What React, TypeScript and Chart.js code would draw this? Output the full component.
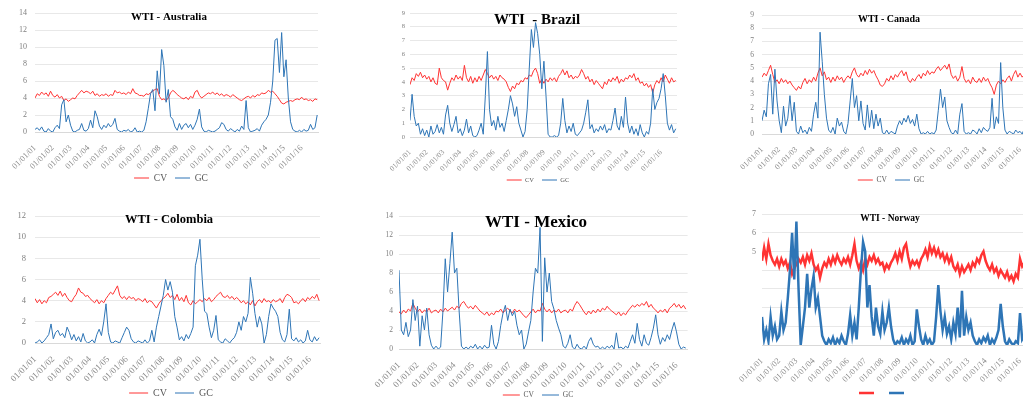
import React, { useEffect, useRef } from "react";
import { Chart, registerables } from "chart.js";

Chart.register(...registerables);

const FONT = "'Liberation Serif', 'Times New Roman', serif";
const RED = "#ff3333";
const BLUE = "#2e75b6";
const START_YEAR = 2001;
const SAMPLES_PER_YEAR = 8;
const YEAR_TICKS = [2001, 2002, 2003, 2004, 2005, 2006, 2007, 2008, 2009, 2010, 2011, 2012, 2013, 2014, 2015, 2016];
const SERIES_NAMES = ["CV", "GC"];

// ---- Australia ----
const AUS_CV = [
  4.0, 4.5, 4.3, 4.7, 4.4, 4.6, 4.2, 4.8,
  4.3, 4.1, 4.4, 4.0, 4.2, 3.7, 3.9, 3.6,
  3.8, 4.0, 3.9, 4.3, 4.6, 4.9, 4.6, 4.8,
  4.7, 4.5, 4.8, 4.3, 4.5, 4.2, 4.4, 4.3,
  4.5, 4.2, 4.4, 4.3, 4.9, 4.6, 4.7, 4.5,
  4.6, 4.4, 4.7, 4.5, 5.1, 4.6, 4.5, 4.3,
  4.3, 4.2, 4.5, 4.4, 4.6, 4.8, 5.0, 5.1,
  4.2, 3.8, 3.9, 3.7, 4.0, 4.6, 4.9, 4.7,
  4.4, 4.2, 4.0, 3.9, 4.1, 3.8, 4.2, 4.0,
  4.7, 4.9, 4.3, 4.0, 4.2, 4.4, 4.6, 4.5,
  4.7, 4.4, 4.6, 4.3, 4.5, 4.2, 4.4, 4.3,
  4.1, 4.4, 4.2, 4.0, 3.8, 3.7, 3.9, 4.1,
  4.2, 4.0, 4.3, 4.1, 4.4, 4.3, 4.6, 4.5,
  4.6, 4.9, 4.7, 4.8, 4.5, 4.2, 3.8, 3.4,
  3.3, 3.5, 3.6, 3.7, 3.6, 3.8, 3.9, 3.8,
  4.1, 3.8, 3.9, 3.7, 3.8, 3.6, 3.9, 3.8,
];
const AUS_GC = [
  0.3, 0.5, 0.2, 0.6, 0.1, 0.0, 0.4, 0.1,
  0.0, 0.5, 0.8, 0.4, 3.2, 3.8, 1.2, 2.0,
  0.8, 0.1, 0.0, 0.2, 0.3, 1.0, 0.2, 0.1,
  0.4, 1.4, 0.5, 2.5, 1.8, 0.7, 0.3, 0.8,
  0.5, 1.0, 0.6, 0.9, 1.6, 0.3, 0.1, 0.0,
  0.2, 0.1, 0.3, 0.0, 0.1, 0.5, 0.0, 0.1,
  0.0, 0.2, 1.2, 2.8, 4.5, 5.0, 2.5, 7.2,
  4.5, 9.7, 7.8, 3.5, 5.0, 1.8, 1.5, 0.6,
  0.2, 1.0, 0.3, 0.8, 1.0, 0.5, 0.9, 0.3,
  0.8, 1.5, 2.7, 0.6, 0.1, 0.0, 0.2, 0.1,
  0.0, 0.1, 0.3, 0.5, 1.1, 0.9, 0.3, 0.1,
  0.4, 0.2, 0.0, 0.3, 0.1, 0.7, 0.3, 3.7,
  0.5, 0.0, 0.1, 0.2, 0.4, 0.1, 0.8, 1.2,
  1.5, 2.0, 3.5, 6.0, 10.8, 11.0, 7.0, 11.7,
  6.5, 8.5, 4.0, 1.2, 0.3, 0.1, 0.0, 0.2,
  0.0, 0.3, 0.1, 0.2, 0.9, 0.3, 0.5, 2.0,
];

// ---- Brazil ----
const BRA_CV = [
  3.8, 4.3, 4.1, 4.6, 4.4, 4.7, 4.3, 4.5,
  4.2, 4.4, 4.0, 4.3, 3.9, 3.8, 5.0, 4.3,
  4.1, 4.0, 3.4, 3.9, 4.3, 4.1, 4.5, 4.2,
  4.4, 4.1, 5.2, 4.3, 4.0, 4.4, 3.9, 4.3,
  4.0, 4.4, 4.1, 4.5, 4.9, 4.6, 4.3, 4.5,
  4.2, 4.4, 4.1, 4.5, 4.3, 4.2, 4.0, 3.6,
  3.3, 3.7, 3.5, 3.9, 3.8, 4.1, 4.0, 4.3,
  4.2, 4.5, 4.4, 4.8, 5.0, 4.6, 3.9, 4.2,
  3.9, 4.2, 4.0, 4.3, 4.1, 4.3, 4.0, 4.4,
  4.6, 4.9, 4.5, 4.8, 4.3, 4.5, 4.2, 4.4,
  4.3, 4.5, 4.9, 4.6, 4.2, 4.4, 4.0, 4.2,
  3.8, 4.1, 3.9, 3.7, 3.5, 4.0, 3.8, 4.2,
  4.0, 4.3, 4.1, 4.4, 3.9, 4.2, 4.0, 4.3,
  4.2, 4.5, 4.3, 4.6, 4.1, 4.3, 3.9, 4.0,
  3.7, 3.9, 3.6, 3.8, 3.2, 3.8, 4.1, 3.9,
  4.3, 4.0, 4.5, 4.2, 3.9, 4.3, 4.0, 4.1,
];
const BRA_GC = [
  1.2, 3.1, 1.5, 0.8, 1.0, 0.2, 0.6, 0.1,
  0.5, 0.0, 0.8, 0.2, 0.4, 0.9, 0.3, 0.7,
  0.2, 1.6, 2.3, 1.0, 0.4, 0.9, 1.5, 0.3,
  0.6, 0.1, 0.5, 1.3, 0.3, 0.8, 0.1, 0.0,
  0.1, 0.5, 1.0, 0.2, 3.0, 6.2, 2.0, 0.8,
  1.2, 0.5, 1.5, 0.7, 1.0, 0.4, 1.2, 2.0,
  3.0, 2.4, 1.5, 2.2, 1.0, 0.5, 0.0, 0.4,
  2.0, 5.0, 7.8, 6.5, 8.3, 7.5, 6.0, 3.5,
  5.5, 3.0, 0.2, 0.0, 0.0, 0.1, 0.0, 0.1,
  1.0, 2.8, 1.2, 0.3, 0.8, 0.4, 1.0, 0.2,
  0.1, 0.3, 0.5, 1.0, 1.8, 2.7, 0.6, 0.9,
  0.3, 0.6, 0.4, 0.8, 0.5, 0.9, 0.3, 0.6,
  0.5, 1.2, 2.1, 0.8, 0.5, 1.5, 0.7, 2.9,
  1.0, 0.3, 0.8, 0.2, 0.6, 0.1, 0.9, 0.3,
  0.0, 0.4, 0.2, 1.0, 3.5, 2.0, 2.5, 2.8,
  3.5, 4.6, 3.0, 1.0, 0.5, 0.9, 0.3, 0.6,
];

// ---- Canada ----
const CAN_CV = [
  4.3, 4.6, 4.4, 4.8, 5.2, 4.5, 3.9, 4.1,
  3.8, 4.2, 3.9, 4.1, 3.8, 4.0, 3.7, 3.5,
  3.3, 3.6, 3.4, 3.9, 4.2, 3.8, 4.1, 3.9,
  4.3, 4.0, 4.6, 5.0, 4.4, 4.7, 4.1, 4.3,
  3.9, 4.3, 4.0, 4.4, 4.1, 4.3, 3.9, 4.2,
  4.4, 4.2, 4.7, 5.0, 4.5, 4.3, 4.6, 4.4,
  4.8, 4.5, 4.9, 4.6, 4.8, 4.4, 4.1, 3.7,
  3.6, 3.8, 4.2, 4.0, 4.4, 4.1, 4.5, 4.3,
  4.6, 4.8, 4.4, 4.7, 4.1, 3.9, 4.2, 4.0,
  4.3, 4.5, 4.2, 4.6, 4.4, 4.8, 4.5, 4.7,
  4.6, 4.9, 5.1, 4.8, 5.0, 5.2, 4.9, 5.3,
  4.5, 4.2, 4.4, 4.0, 4.3, 5.1, 4.2, 3.9,
  4.1, 3.8, 4.3, 4.0, 3.9, 4.2, 3.9, 4.3,
  4.0, 4.2, 3.8, 3.5, 3.0, 3.7, 4.0, 3.8,
  4.1, 3.9, 4.2, 4.4, 4.0, 4.5, 4.8, 4.3,
  4.6, 4.3, 4.5, 4.2, 4.4, 4.1, 4.3, 4.2,
];
const CAN_GC = [
  1.0, 1.8, 1.3, 3.8, 4.5, 1.5, 4.9, 2.5,
  1.0, 0.1, 2.1, 0.6, 1.2, 2.9, 1.0, 2.4,
  0.2, 0.0, 0.6, 0.1, 0.3, 0.0, 0.5, 0.2,
  1.5, 2.4, 1.2, 7.7, 5.5, 3.0, 1.2, 0.3,
  0.1, 0.5, 0.0, 1.2, 0.6, 0.9, 0.2, 0.0,
  0.8, 2.5, 4.2, 2.0, 2.9, 1.0, 2.5, 0.8,
  0.3, 2.2, 0.5, 1.8, 0.4, 1.5, 0.6, 1.2,
  0.1, 0.0, 0.3, 0.0, 0.2, 0.1, 0.0, 0.6,
  1.0, 0.7, 1.2, 0.9, 1.4, 0.8, 1.1, 0.6,
  1.5, 0.4, 0.0, 0.1, 0.0, 0.2, 0.0, 0.1,
  0.0, 0.3, 1.8, 3.4, 2.0, 2.8, 1.0, 0.5,
  0.1, 0.0, 0.3, 0.0, 1.5, 2.3, 0.2, 0.0,
  0.1, 0.0, 0.3, 0.2, 0.0, 0.4, 0.1, 0.5,
  0.3, 0.2, 0.5, 2.7, 0.4, 1.3, 0.8, 5.4,
  2.0, 0.3, 0.0, 0.2, 0.1, 0.0, 0.3, 0.1,
  0.2, 0.0, 0.4, 0.1, 0.3, 0.0, 0.2, 0.1,
];

// ---- Colombia ----
const COL_CV = [
  4.2, 3.8, 4.1, 3.7, 4.0, 3.8, 4.3, 4.4,
  4.6, 4.8, 4.5, 4.9, 4.4, 4.7, 4.3, 4.0,
  3.9, 4.3, 4.6, 5.2, 4.8, 4.7, 4.4, 4.5,
  4.2, 4.0, 3.8, 4.1, 3.7, 4.0, 3.8, 4.2,
  4.5, 4.8, 4.6, 5.0, 5.4, 4.5, 4.2, 4.4,
  4.1, 4.4, 4.2, 4.3, 4.0, 4.2, 4.1, 3.9,
  4.2, 3.8, 4.0, 3.9, 3.6, 3.3, 3.7, 4.0,
  4.2, 4.4, 4.7, 4.3, 4.5, 4.1, 4.6, 4.0,
  4.3, 3.9, 4.5, 3.8, 3.6, 4.0, 3.7, 3.9,
  4.1, 3.9, 4.2, 4.0, 4.3, 3.9, 4.1, 4.4,
  4.6, 4.8, 4.4, 4.3, 4.5, 4.2, 4.4, 4.1,
  4.3, 4.1, 3.8, 4.0, 3.7, 3.9, 3.6, 4.0,
  3.5, 3.9, 4.1, 3.8, 4.2, 3.9, 4.0, 3.8,
  4.1, 3.9, 4.0, 4.2, 3.8, 4.3, 4.6, 4.5,
  4.3, 3.8, 3.9, 3.7, 4.0, 4.2, 3.9, 4.3,
  4.1, 4.4, 4.2, 4.6, 4.0,
];
const COL_GC = [
  0.0, 0.1, 0.3, 0.0, 0.2, 0.5, 0.8, 1.8,
  0.4, 1.0, 1.2, 0.7, 0.9, 0.5, 1.5, 1.0,
  0.3, 0.8, 0.2, 0.6, 0.1, 0.9, 0.2, 0.0,
  0.1, 0.3, 0.0, 0.8, 1.3, 0.7, 2.0, 3.7,
  1.0, 0.1, 0.0, 0.2, 0.1, 0.0, 0.5, 1.0,
  1.5, 1.2, 0.4, 0.1, 0.0, 0.2, 0.1, 0.0,
  0.3, 0.0, 0.2, 1.2, 0.1, 1.5, 2.5, 3.5,
  4.5, 6.0, 5.0, 5.8, 4.8, 2.5, 1.5, 0.3,
  0.6, 0.2, 0.8, 0.4, 0.9, 1.5, 7.3, 8.3,
  9.8, 6.0, 3.0, 2.8, 1.5, 0.5, 1.2, 2.6,
  0.3, 0.1, 0.0, 0.4, 0.2, 0.0, 0.3, 0.5,
  1.0, 2.0, 1.2, 2.5, 2.0, 2.8, 6.2, 4.7,
  2.8, 1.5, 2.5, 1.8, 0.0, 0.8, 2.5, 3.7,
  3.3, 3.0, 2.5, 1.0, 0.3, 0.1, 0.8, 3.2,
  0.4, 0.2, 0.5, 0.1, 0.3, 0.0, 0.2, 1.2,
  0.3, 0.1, 0.6, 0.2, 0.5,
];

// ---- Mexico ----
const MEX_CV = [
  3.9, 3.7, 4.1, 3.8, 4.2, 4.0, 4.8, 4.3,
  3.9, 4.2, 3.8, 4.1, 3.9, 4.3, 3.8, 4.0,
  4.1, 3.8, 4.2, 3.9, 4.3, 4.0, 4.2, 4.4,
  4.1, 4.5, 4.3, 4.8, 5.0, 4.6, 4.3, 4.5,
  4.2, 4.6, 4.3, 4.0, 3.8, 3.6, 3.9, 3.5,
  3.8, 3.6, 4.0, 3.9, 4.2, 3.8, 4.1, 4.3,
  4.0, 3.8, 4.2, 3.9, 4.1, 3.8, 3.5, 3.3,
  3.6, 3.9, 4.2, 3.8, 4.1, 4.0, 4.8, 4.2,
  3.9, 4.2, 3.8, 4.1, 3.9, 4.2, 3.8, 4.0,
  4.1, 3.8, 4.2, 4.0, 4.6, 5.0, 4.7, 4.3,
  3.9, 3.6, 4.0, 3.7, 4.1, 3.8, 4.2, 3.9,
  4.3, 4.1, 4.5, 4.2, 4.0, 3.8, 3.6, 3.9,
  3.5, 3.8, 3.6, 4.0, 4.3, 4.6, 4.4, 4.7,
  4.5, 4.8, 4.6, 5.0, 4.4, 4.7, 4.3, 4.1,
  3.8, 4.1, 3.9, 4.2, 3.8, 4.3, 4.5, 4.8,
  4.4, 4.7, 4.3, 4.6, 4.2,
];
const MEX_GC = [
  8.3, 2.0, 1.5, 2.8, 1.3, 2.0, 5.2, 3.0,
  4.5, 0.3, 3.5, 2.0, 4.3, 1.5, 0.4, 0.0,
  0.3, 0.0, 0.2, 4.0, 9.5, 6.0, 9.0, 12.3,
  8.0, 8.5, 4.0, 0.3, 0.0, 0.2, 0.0, 0.3,
  0.1, 0.5, 0.0, 0.3, 0.0, 0.4, 0.1, 0.2,
  2.5, 0.5, 0.0, 0.8, 2.5, 3.8, 4.6, 3.0,
  4.2, 3.5, 4.0, 2.5, 1.5, 2.0, 0.0, 0.5,
  1.8, 3.0, 6.0, 8.5, 8.0, 12.8, 0.8, 9.6,
  6.0, 8.0, 5.0, 4.2, 3.0, 2.2, 1.5, 0.3,
  0.1, 0.6, 1.5, 0.2, 0.0, 0.5, 0.1, 0.0,
  0.3, 0.0, 0.8, 1.2, 0.5, 0.2, 0.3, 0.0,
  0.2, 0.0, 0.3, 0.1, 0.4, 0.0, 1.7, 0.1,
  0.2, 0.0, 0.3, 0.1, 0.8, 1.5, 0.6, 2.7,
  1.0, 0.3, 1.5, 0.6, 0.4, 1.2, 2.2, 3.6,
  1.5, 0.5, 1.2, 0.8, 1.5, 1.0, 2.0, 2.8,
  1.8, 0.5, 0.0, 0.2, 0.1,
];

// ---- Norway ----
const NOR_CV = [
  4.5, 5.2, 4.6, 5.4, 4.8, 4.5, 4.3, 4.6,
  4.2, 4.6, 4.3, 4.5, 4.1, 4.4, 3.8, 4.1,
  4.3, 4.6, 4.4, 4.7, 4.3, 4.8, 4.5, 4.9,
  4.3, 4.0, 4.2, 3.6, 4.1, 4.4, 4.2, 4.6,
  4.3, 4.7, 4.4, 4.8, 4.5, 4.3, 4.6, 4.4,
  4.7, 4.3, 4.8, 5.4, 4.5, 4.1, 4.4, 4.0,
  4.6, 4.3, 4.7, 4.5, 4.8, 4.4, 4.6, 4.3,
  4.4, 4.0, 4.3, 4.1, 4.4, 4.6, 4.9, 4.5,
  5.0, 4.6, 5.2, 5.4, 4.7, 4.2, 4.5, 4.3,
  4.5, 4.2, 4.6, 4.8, 5.1, 4.7, 5.3, 4.9,
  5.2, 4.8, 5.1, 4.7, 4.9, 4.5, 4.8, 4.4,
  4.7, 4.2, 4.0, 4.3, 3.8, 4.2, 3.9, 4.1,
  4.3, 4.0, 4.4, 4.2, 4.6, 4.4, 4.8, 5.0,
  4.5, 4.2, 4.0, 4.3, 3.9, 4.1, 3.7, 4.0,
  3.8, 3.6, 3.9, 3.5, 3.7, 3.4, 3.8, 3.6,
  4.6, 4.2, 4.4, 4.1, 4.3, 4.0, 4.2, 4.4,
];
const NOR_GC = [
  1.5, 0.3, 0.8, 0.2, 1.5, 0.5, 1.0, 0.3,
  0.5, 1.8, 0.8, 1.2, 2.5, 4.0, 6.0, 3.5,
  6.6, 3.0, 0.0, 1.0, 2.0, 3.8, 2.0, 3.0,
  3.7, 2.0, 2.5, 1.5, 0.5, 0.2, 0.0, 0.3,
  0.1, 0.4, 0.0, 0.3, 0.1, 0.5, 0.2, 0.0,
  0.6, 1.6, 0.5, 1.2, 0.3, 2.0, 4.0, 5.5,
  5.0, 2.0, 3.2, 1.5, 0.5, 2.0, 1.0, 0.6,
  1.8, 0.8, 1.2, 2.0, 1.0, 0.3, 0.0, 0.2,
  0.1, 0.4, 0.0, 0.3, 0.1, 0.5, 0.0, 0.2,
  1.9, 1.0, 0.3, 0.0, 0.5, 0.1, 0.3, 0.0,
  0.2, 1.5, 3.2, 1.8, 0.8, 1.5, 0.6, 1.0,
  0.3, 1.2, 0.6, 2.0, 0.4, 2.9, 0.5, 1.5,
  0.8, 1.2, 0.5, 0.2, 0.0, 0.3, 0.1, 0.4,
  0.2, 0.5, 0.0, 0.3, 0.1, 0.4, 0.8, 2.2,
  1.0, 0.2, 0.0, 0.3, 0.1, 0.0, 0.2, 0.1,
  1.7, 0.3, 0.5, 0.1, 0.2, 0.0, 0.3, 0.1,
];

type Box = { x: number; y: number; w: number; h: number };
type Panel = {
  key: string;
  title: string;
  titleAt: { x: number; y: number; size: number };
  clip: Box;
  canvas: Box;
  area: { left: number; top: number; right: number; bottom: number };
  xMax: number;
  yMax: number;
  yStep: number;
  yLabelMin: number;
  cv: number[];
  gc: number[];
  lw: number;
  yFont: number;
  yPad: number;
  xFont: number;
  legendFont: number;
  legendPad: number;
  legendLine: number;
  legendText: boolean;
  legendAt: { x: number; y: number };
};

const PANELS: Panel[] = [
  {
    key: "aus", title: "WTI - Australia", titleAt: { x: 169, y: 17, size: 11 },
    clip: { x: 0, y: 0, w: 340, h: 200 }, canvas: { x: 0, y: 0, w: 330, h: 200 },
    area: { left: 35, top: 13, right: 318, bottom: 132 },
    xMax: 2016.92, yMax: 14, yStep: 2, yLabelMin: 0, cv: AUS_CV, gc: AUS_GC, lw: 1,
    yFont: 8, yPad: 8, xFont: 8.5, legendFont: 9.5, legendPad: 8, legendLine: 15,
    legendText: true, legendAt: { x: 171, y: 178 },
  },
  {
    key: "bra", title: "WTI  - Brazil", titleAt: { x: 537, y: 20, size: 15 },
    clip: { x: 340, y: 0, w: 340, h: 200 }, canvas: { x: 340, y: 0, w: 345, h: 200 },
    area: { left: 70, top: 13, right: 337, bottom: 137 },
    xMax: 2016.95, yMax: 9, yStep: 1, yLabelMin: 0, cv: BRA_CV, gc: BRA_GC, lw: 1,
    yFont: 6.5, yPad: 5, xFont: 7.5, legendFont: 6.5, legendPad: 8, legendLine: 15,
    legendText: true, legendAt: { x: 538, y: 180 },
  },
  {
    key: "can", title: "WTI - Canada", titleAt: { x: 889, y: 19, size: 10 },
    clip: { x: 680, y: 0, w: 343, h: 200 }, canvas: { x: 680, y: 0, w: 370, h: 200 },
    area: { left: 82, top: 15, right: 355.5, bottom: 134 },
    xMax: 2016.9, yMax: 9, yStep: 1, yLabelMin: 0, cv: CAN_CV, gc: CAN_GC, lw: 1,
    yFont: 7.5, yPad: 8, xFont: 8, legendFont: 7.5, legendPad: 8, legendLine: 15,
    legendText: true, legendAt: { x: 891, y: 180 },
  },
  {
    key: "col", title: "WTI - Colombia", titleAt: { x: 169, y: 220, size: 12.5 },
    clip: { x: 0, y: 200, w: 340, h: 200 }, canvas: { x: 0, y: 200, w: 335, h: 200 },
    area: { left: 35, top: 16, right: 320, bottom: 143 },
    xMax: 2016.55, yMax: 12, yStep: 2, yLabelMin: 0, cv: COL_CV, gc: COL_GC, lw: 1,
    yFont: 8.5, yPad: 9, xFont: 9, legendFont: 10, legendPad: 8, legendLine: 19,
    legendText: true, legendAt: { x: 171, y: 393 },
  },
  {
    key: "mex", title: "WTI - Mexico", titleAt: { x: 536, y: 223, size: 17 },
    clip: { x: 340, y: 200, w: 349, h: 200 }, canvas: { x: 340, y: 200, w: 360, h: 200 },
    area: { left: 59, top: 16, right: 347.6, bottom: 149 },
    xMax: 2016.6, yMax: 14, yStep: 2, yLabelMin: 0, cv: MEX_CV, gc: MEX_GC, lw: 1,
    yFont: 7.5, yPad: 6, xFont: 9, legendFont: 7.5, legendPad: 8, legendLine: 17,
    legendText: true, legendAt: { x: 538, y: 395 },
  },
  {
    key: "nor", title: "WTI - Norway", titleAt: { x: 890, y: 219, size: 9.5 },
    clip: { x: 689, y: 200, w: 334, h: 200 }, canvas: { x: 689, y: 200, w: 360, h: 200 },
    area: { left: 73, top: 14, right: 346.5, bottom: 145 },
    xMax: 2016.9, yMax: 7, yStep: 1, yLabelMin: 5, cv: NOR_CV, gc: NOR_GC, lw: 2.5,
    yFont: 8, yPad: 6, xFont: 8.5, legendFont: 10, legendPad: 10, legendLine: 15,
    legendText: false, legendAt: { x: 884, y: 393 },
  },
];

const LEGEND_LAYOUT_H = 2;

const fmtYear = (v: number) => "01/01/" + String(Math.round(v) % 100).padStart(2, "0");
const toPoints = (vals: number[]) =>
  vals.map((y, i) => ({ x: START_YEAR + i / SAMPLES_PER_YEAR, y }));

const decorPlugin = {
  id: "decor",
  afterLayout(chart: any, _args: any, o: any) {
    const l = chart.legend;
    if (!l || !o || !o.legendAt) return;
    const h = o.legendFont + o.legendPad + 10;
    const cx = (l.left + l.right) / 2;
    const dx = o.legendAt.x - cx;
    l.left += dx;
    l.right += dx;
    l.top = o.legendAt.y - o.legendPad - o.legendFont / 2;
    l.bottom = l.top + h;
    l.height = h;
  },
  afterDraw(chart: any, _args: any, o: any) {
    if (!o || !o.title) return;
    const ctx = chart.ctx;
    ctx.save();
    ctx.font = `bold ${o.titleSize}px ${FONT}`;
    ctx.fillStyle = "#000000";
    ctx.textAlign = "center";
    ctx.textBaseline = "middle";
    ctx.fillText(o.title, o.titleX, o.titleY);
    ctx.restore();
  },
};

function PanelChart({ p }: { p: Panel }) {
  const ref = useRef<HTMLCanvasElement | null>(null);
  useEffect(() => {
    if (!ref.current) return;
    const a = p.area;
    const xH = p.canvas.h - a.bottom - LEGEND_LAYOUT_H;
    const chart = new Chart(ref.current, {
      type: "line",
      data: {
        datasets: [
          {
            label: p.legendText ? SERIES_NAMES[0] : "",
            data: toPoints(p.cv),
            borderColor: RED,
            backgroundColor: RED,
            borderWidth: p.lw,
            pointRadius: 0,
            pointHoverRadius: 0,
            tension: 0,
            order: 2,
          },
          {
            label: p.legendText ? SERIES_NAMES[1] : "",
            data: toPoints(p.gc),
            borderColor: BLUE,
            backgroundColor: BLUE,
            borderWidth: p.lw,
            pointRadius: 0,
            pointHoverRadius: 0,
            tension: 0,
            order: 1,
          },
        ],
      },
      options: {
        responsive: false,
        animation: false,
        events: [],
        layout: {
          padding: { left: 0, top: a.top, right: p.canvas.w - a.right, bottom: 0 },
        },
        scales: {
          x: {
            type: "linear",
            min: START_YEAR,
            max: p.xMax,
            afterBuildTicks: (s: any) => {
              s.ticks = YEAR_TICKS.map((v) => ({ value: v }));
            },
            afterFit: (s: any) => {
              s.height = xH;
            },
            grid: { display: false },
            border: { display: true, color: "#d9d9d9" },
            ticks: {
              autoSkip: false,
              minRotation: 45,
              maxRotation: 45,
              padding: 3,
              color: "#8a8a8a",
              font: { family: FONT, size: p.xFont },
              callback: (v: any) => fmtYear(Number(v)),
            },
          },
          y: {
            min: 0,
            max: p.yMax,
            afterFit: (s: any) => {
              s.width = a.left;
            },
            grid: { color: "#e8e8e8", drawTicks: false },
            border: { display: false },
            ticks: {
              stepSize: p.yStep,
              padding: p.yPad,
              color: "#7f7f7f",
              font: { family: FONT, size: p.yFont },
              callback: (v: any) => (Number(v) >= p.yLabelMin ? String(v) : ""),
            },
          },
        },
        plugins: {
          legend: {
            position: "bottom",
            maxHeight: LEGEND_LAYOUT_H,
            labels: {
              usePointStyle: true,
              pointStyle: "line",
              pointStyleWidth: p.legendLine,
              boxHeight: p.legendFont,
              padding: p.legendPad,
              color: "#595959",
              font: { family: FONT, size: p.legendFont },
              sort: (x: any, y: any) => x.datasetIndex - y.datasetIndex,
            },
          },
          tooltip: { enabled: false },
          decor: {
            legendAt: { x: p.legendAt.x - p.canvas.x, y: p.legendAt.y - p.canvas.y },
            legendPad: p.legendPad,
            legendFont: p.legendFont,
            title: p.title,
            titleX: p.titleAt.x - p.canvas.x,
            titleY: p.titleAt.y - p.canvas.y,
            titleSize: p.titleAt.size,
          },
        } as any,
      },
      plugins: [decorPlugin],
    } as any);
    return () => chart.destroy();
  }, [p]);
  return (
    <canvas
      ref={ref}
      width={p.canvas.w}
      height={p.canvas.h}
      style={{
        position: "absolute",
        left: p.canvas.x - p.clip.x,
        top: p.canvas.y - p.clip.y,
        width: p.canvas.w,
        height: p.canvas.h,
        display: "block",
      }}
    />
  );
}

export default function App() {
  return (
    <div
      style={{
        position: "fixed",
        left: 0,
        top: 0,
        width: 1023,
        height: 400,
        overflow: "hidden",
        background: "#ffffff",
      }}
    >
      {PANELS.map((p) => (
        <div
          key={p.key}
          style={{
            position: "absolute",
            left: p.clip.x,
            top: p.clip.y,
            width: p.clip.w,
            height: p.clip.h,
            overflow: "hidden",
          }}
        >
          <PanelChart p={p} />
        </div>
      ))}
    </div>
  );
}
